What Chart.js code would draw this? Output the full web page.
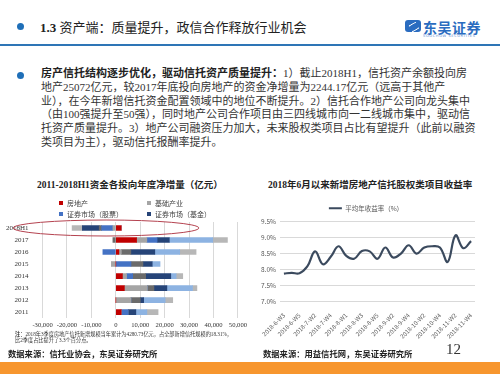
<!DOCTYPE html>
<html>
<head>
    <meta charset="utf-8">
    <title>1.3 资产端：质量提升，政信合作释放行业机会</title>
    <script src="https://cdn.jsdelivr.net/npm/chart.js"></script>
    <style>
        body { margin: 0; width: 500px; height: 374px; position: relative; overflow: hidden; background: #fff;
               font-family: "Liberation Serif", "Noto Sans CJK SC", serif; color: #333; }
        .abs { position: absolute; white-space: nowrap; }
        .dot { position: absolute; width: 7px; height: 7px; border-radius: 50%; background: #1f6fb8; }
        #topRule { position: absolute; left: 0; top: 44px; width: 500px; height: 2px; background: #2e75b6; }
        #heading { left: 40px; top: 17px; font-size: 13px; color: #222; }
        #para { left: 41px; top: 67px; font-size: 11px; line-height: 13.8px; color: #333; }
        #para b { color: #222; }
        .chartTitle { font-size: 9.5px; font-weight: bold; color: #222; }
        .src { font-size: 8.3px; font-weight: bold; color: #222; }
        #note { left: 15px; top: 331px; font-size: 5.2px; line-height: 6px; color: #333; }
        #pageNo { left: 446px; top: 341px; font-size: 15px; color: #333; }
        #footBar { position: absolute; left: 0; top: 362px; width: 500px; height: 12px; background: #f7962e; }
        #logoIcon { position: absolute; left: 405px; top: 20px; width: 16px; height: 12px; border-radius: 3px; background: #2a6cc0; }
        #logoIcon:after { content: ""; position: absolute; left: 4px; top: 3px; width: 8px; height: 6px; border-radius: 3px; border: 1.5px solid #fff; border-color: #fff transparent #fff transparent; transform: rotate(-30deg); }
        #logoText { left: 423px; top: 17px; font-family: "Noto Sans CJK SC", sans-serif; font-size: 14px; font-weight: bold; color: #2a6cc0; letter-spacing: 0.5px; }
        #logoSub { left: 423px; top: 34px; font-family: "DejaVu Sans", sans-serif; font-size: 3.6px; color: #5b8bd0; letter-spacing: 0.6px; }
        #barWrap { position: absolute; left: 0; top: 190px; }
        #lineWrap { position: absolute; left: 255px; top: 197px; }
    </style>
</head>
<body>
    <!-- header -->
    <div class="dot" style="left:17px; top:23px;"></div>
    <div class="abs" id="heading"><b>1.3</b> 资产端：质量提升，政信合作释放行业机会</div>
    <div id="logoIcon"></div>
    <div class="abs" id="logoText">东吴证券</div>
    <div class="abs" id="logoSub">SOOCHOW SECURITIES</div>
    <div id="topRule"></div>

    <!-- bullet text -->
    <div class="dot" style="left:17px; top:72px;"></div>
    <div class="abs" id="para"><b>房产信托结构逐步优化，驱动信托资产质量提升：</b>1）截止2018H1，信托资产余额投向房<br>地产25072亿元，较2017年底投向房地产的资金净增量为2244.17亿元（远高于其他产<br>业），在今年新增信托资金配置领域中的地位不断提升。2）信托合作地产公司向龙头集中<br>（由100强提升至50强），同时地产公司合作项目由三四线城市向一二线城市集中，驱动信<br>托资产质量提升。3）地产公司融资压力加大，未来股权类项目占比有望提升（此前以融资<br>类项目为主），驱动信托报酬率提升。</div>

    <!-- chart titles -->
    <div class="abs chartTitle" style="left:37px; top:177px;">2011-2018H1资金各投向年度净增量（亿元）</div>
    <div class="abs chartTitle" style="left:268px; top:177px;">2018年6月以来新增房地产信托股权类项目收益率</div>

    <div id="barWrap"><canvas id="barChart" width="250" height="142"></canvas></div>
    <div id="lineWrap"><canvas id="lineChart" width="240" height="145"></canvas></div>

    <div class="abs" id="note"><b>注：</b>2018年3季度房地产信托新增规模当年累计为4280.73亿元，占全部新增信托规模的18.31%，<br>比2季度占比提升了3.3个百分点。</div>

    <div class="abs src" style="left:8px; top:347px;">数据来源：信托业协会，东吴证券研究所</div>
    <div class="abs src" style="left:263px; top:347px;">数据来源：用益信托网，东吴证券研究所</div>
    <div class="abs" id="pageNo">12</div>
    <div id="footBar"></div>

    <script>
        // ---- left chart: yearly net increase by destination (亿元) ----
        const barYears = ['2018H1', '2017', '2016', '2015', '2014', '2013', '2012', '2011'];
        const realEstate   = [2244, 8500, 1260, 0, 2700, 3500, 0, 2200];      // 房地产
        const infra        = [-1200, 4200, 1000, -1800, 1700, 9400, 6200, 0]; // 基础产业
        const stocks       = [-4600, 4200, -5300, 6200, 2500, 0, 0, 2900];    // 证券市场（股票）
        const finInst      = [-1000, -1200, 3900, 4900, 5300, 2700, 3800, 0]; // 金融机构
        const funds        = [-6900, 5000, 9800, 3800, 10300, 5300, 1400, 3100]; // 证券市场（基金）
        const bonds        = [0, 17800, 10200, 3200, 2200, 10500, 8800, 4500];   // 证券市场（债券）
        const others       = [-4200, 6000, 6700, 0, 2700, 1800, 3100, 4600];     // 其他
        const xTicksMin = -30000, xTicksMax = 50000, xStep = 10000;
        const shownLegend = ['房地产', '基础产业', '证券市场（股票）', '证券市场（基金）'];

        // ---- right chart: avg annual yield (%) ----
        const weeks = ['2018-6-W3', '2018-6-W4', '2018-6-W5', '2018-7-W1', '2018-7-W2', '2018-7-W3', '2018-7-W4',
                       '2018-7-W5', '2018-8-W1', '2018-8-W2', '2018-8-W3', '2018-8-W4', '2018-8-W5', '2018-9-W1',
                       '2018-9-W2', '2018-9-W3', '2018-9-W4', '2018-10-W1', '2018-10-W2', '2018-10-W3', '2018-10-W4',
                       '2018-11-W1', '2018-11-W2', '2018-11-W3', '2018-11-W4'];
        const yieldPct = [7.88, 7.90, 7.89, 8.10, 8.57, 8.17, 8.40, 8.73, 8.43, 8.34, 8.58, 8.57, 8.34,
                          8.69, 8.38, 8.50, 8.76, 8.50, 8.69, 8.73, 8.69, 8.24, 9.07, 8.67, 8.89];

        const serif = "'Liberation Serif', 'Noto Sans CJK SC', serif";
        const sans = "'Noto Sans CJK SC', sans-serif";

        // two-column legend drawn on the canvas like the original
        const gridLegend = {
            id: 'gridLegend',
            afterDraw(chart) {
                const ctx = chart.ctx;
                const items = chart.data.datasets.filter(d => shownLegend.includes(d.label));
                ctx.save();
                ctx.font = '7px ' + sans;
                ctx.textBaseline = 'middle';
                items.forEach((d, i) => {
                    const x = [61, 149][i % 2];
                    const y = [13, 24][Math.floor(i / 2)];
                    ctx.fillStyle = d.backgroundColor;
                    ctx.fillRect(x - 2, y - 2, 4, 4);
                    ctx.fillStyle = '#404040';
                    ctx.fillText(d.label, x + 6, y);
                });
                ctx.restore();
            }
        };

        // red ellipse around the 2018H1 row
        const rowEllipse = {
            id: 'rowEllipse',
            afterDraw(chart) {
                const xs = chart.scales.x, ys = chart.scales.y;
                const left = xs.getPixelForValue(-42000), right = xs.getPixelForValue(34000);
                const cy = ys.getPixelForValue(0);
                const ctx = chart.ctx;
                ctx.save();
                ctx.strokeStyle = '#b4424f';
                ctx.lineWidth = 1;
                ctx.beginPath();
                ctx.ellipse((left + right) / 2, cy, (right - left) / 2, 8, 0, 0, Math.PI * 2);
                ctx.stroke();
                ctx.restore();
            }
        };

        function barSet(label, data, color) {
            return { label: label, data: data, backgroundColor: color, borderWidth: 0, barThickness: 5 };
        }

        new Chart(document.getElementById('barChart'), {
            type: 'bar',
            data: {
                labels: barYears,
                datasets: [
                    barSet('房地产', realEstate, '#c00000'),
                    barSet('基础产业', infra, '#a5a5a5'),
                    barSet('证券市场（股票）', stocks, '#4472c4'),
                    barSet('金融机构', finInst, '#6b6b6b'),
                    barSet('证券市场（基金）', funds, '#264478'),
                    barSet('证券市场（债券）', bonds, '#8db3e2'),
                    barSet('其他', others, '#b7b7b7')
                ]
            },
            options: {
                indexAxis: 'y',
                responsive: false,
                animation: false,
                layout: { padding: { top: 32, left: 0, right: 6, bottom: 0 } },
                plugins: { legend: { display: false }, tooltip: { enabled: false } },
                scales: {
                    x: {
                        stacked: true, min: xTicksMin, max: xTicksMax,
                        ticks: { stepSize: xStep, color: '#333', font: { family: serif, size: 6.6 },
                                 padding: 3, maxRotation: 0, minRotation: 0, autoSkip: false,
                                 callback: v => v.toLocaleString('en-US') },
                        grid: { color: '#d9d9d9', drawTicks: false },
                        border: { display: false }
                    },
                    y: {
                        stacked: true,
                        ticks: { color: '#333', font: { family: serif, size: 7 }, padding: 6, autoSkip: false },
                        grid: { display: false },
                        border: { display: false }
                    }
                }
            },
            plugins: [gridLegend, rowEllipse]
        });

        new Chart(document.getElementById('lineChart'), {
            type: 'line',
            data: {
                labels: weeks,
                datasets: [{
                    label: '平均年收益率（%）',
                    data: yieldPct,
                    borderColor: '#3b4a5e',
                    backgroundColor: '#3b4a5e',
                    borderWidth: 2.2,
                    tension: 0.4,
                    pointRadius: 0
                }]
            },
            options: {
                responsive: false,
                animation: false,
                layout: { padding: { top: 0, left: 2, right: 20, bottom: 0 } },
                plugins: {
                    tooltip: { enabled: false },
                    legend: {
                        labels: { usePointStyle: true, pointStyle: 'line', pointStyleWidth: 13,
                                  color: '#595959', font: { family: sans, size: 6.5 }, padding: 8 }
                    }
                },
                scales: {
                    x: {
                        offset: true,
                        grid: { display: false },
                        border: { display: false },
                        ticks: {
                            autoSkip: false, minRotation: 45, maxRotation: 45,
                            color: '#595959', font: { family: sans, size: 6 }, padding: 2,
                            callback: function (v, i) { return i % 2 === 0 ? this.getLabelForValue(v) : ''; }
                        }
                    },
                    y: {
                        min: 7.0, max: 9.5,
                        ticks: { stepSize: 0.5, color: '#595959', font: { family: sans, size: 6.5 },
                                 padding: 4, callback: v => v.toFixed(1) + '%' },
                        grid: { color: '#d9d9d9', drawTicks: false },
                        border: { display: false }
                    }
                }
            }
        });
    </script>
</body>
</html>
